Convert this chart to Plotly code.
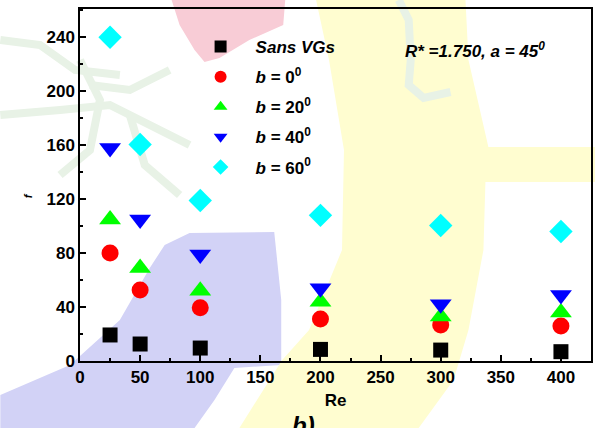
import plotly.graph_objects as go

# ---- data ----
re_vals = [25, 50, 100, 200, 300, 400]
f_sans = [19.3, 12.6, 9.6, 8.6, 8.1, 6.9]
f_b0 = [80, 52.6, 39.5, 31.1, 26.7, 25.9]
f_b20 = [105, 69, 52, 44, 33, 36]
f_b40 = [158, 105, 79, 54, 42, 49]
f_b60 = [240, 160.5, 119, 108, 100.5, 96]
x_ticks = [0, 50, 100, 150, 200, 250, 300, 350, 400]
y_ticks = [0, 40, 80, 120, 160, 200, 240]

FONT = "Arial, Liberation Sans, sans-serif"
W_FIG, H_FIG = 597, 428
L, T, R, B = 80, 9, 4, 67
PW, PH = W_FIG - L - R, H_FIG - T - B


def px(x):
    return (x - L) / PW


def py(y):
    return (T + PH - y) / PH


def poly(pts, close=True):
    s = "M " + " L ".join(f"{px(a):.4f},{py(b):.4f}" for a, b in pts)
    return s + (" Z" if close else "")


fig = go.Figure()

series = [
    ("<b><i>Sans VGs</i></b>", f_sans, "square", "#000000", 15),
    ("<b><i>b</i> = 0<sup>0</sup></b>", f_b0, "circle", "#FF0000", 17),
    ("<b><i>b</i> = 20<sup>0</sup></b>", f_b20, "triangle-up", "#00FF00", 19),
    ("<b><i>b</i> = 40<sup>0</sup></b>", f_b40, "triangle-down", "#0000FF", 19),
    ("<b><i>b</i> = 60<sup>0</sup></b>", f_b60, "diamond", "#00FFFF", 18),
]
for i, (name, ys, sym, col, sz) in enumerate(series):
    fig.add_trace(go.Scatter(
        x=re_vals, y=ys, mode="markers", name=name, legendgroup=f"g{i}",
        marker=dict(symbol=sym, color=col, size=sz, line=dict(width=0)),
    ))

# background watermark shapes
shapes = []
lavender = [(0, 395), (70, 365), (120, 320), (150, 268), (165, 245), (190, 233),
            (275, 232), (282, 300), (282, 365), (235, 368), (215, 400), (195, 428), (0, 428)]
yellow = [(317, 0), (467, 0), (470, 60), (490, 147), (597, 147), (597, 182), (487, 182),
          (485, 250), (470, 330), (455, 380), (420, 428), (240, 428), (283, 360),
          (310, 330), (343, 250), (345, 150), (330, 60)]
pink = [(172, 0), (286, 0), (284, 25), (250, 40), (220, 58), (205, 62), (195, 50), (180, 25)]
for pts, col in [(lavender, "rgb(210,210,246)"), (yellow, "rgb(255,253,208)"),
                 (pink, "rgb(248,204,214)")]:
    shapes.append(dict(type="path", path=poly(pts), xref="paper", yref="paper",
                       fillcolor=col, line=dict(width=0), layer="below"))

# faint green strokes
greens = [
    [(400, 0), (410, 20), (412, 60), (410, 85), (425, 98), (452, 92)],
    [(0, 40), (40, 45), (75, 70), (120, 75)],
    [(0, 115), (60, 110), (110, 105), (150, 125), (190, 145)],
    [(80, 60), (100, 100), (90, 150), (60, 175)],
    [(90, 85), (130, 90), (170, 70)],
    [(130, 115), (145, 165), (180, 195)],
]
for pts in greens:
    shapes.append(dict(type="path", path=poly(pts, close=False), xref="paper", yref="paper",
                       line=dict(color="rgb(232,242,230)", width=8), layer="below"))

fig.update_layout(
    width=W_FIG, height=H_FIG,
    margin=dict(l=L, r=R, t=T, b=B),
    paper_bgcolor="white", plot_bgcolor="rgba(0,0,0,0)",
    font=dict(family=FONT, size=16, color="black"),
    shapes=shapes,
    showlegend=True,
    legend=dict(x=px(186), y=py(29), xanchor="left", yanchor="top",
                bgcolor="rgba(0,0,0,0)", font=dict(size=17, family=FONT),
                itemsizing="constant", tracegroupgap=5, itemwidth=60),
    xaxis=dict(range=[0, 425], tickvals=x_ticks, showgrid=False, zeroline=False,
               showline=True, linecolor="black", linewidth=1.5, mirror=True,
               ticks="inside", ticklen=6, tickwidth=1.5, tickcolor="black",
               minor=dict(ticks="inside", ticklen=3, dtick=25, tickwidth=1.5, tickcolor="black"),
               tickfont=dict(size=17, family=FONT, weight="bold"),
               title=dict(text="<b>Re</b>", font=dict(size=17), standoff=8)),
    yaxis=dict(range=[0, 261], tickvals=y_ticks, showgrid=False, zeroline=False,
               showline=True, linecolor="black", linewidth=1.5, mirror=True,
               ticks="inside", ticklen=6, tickwidth=1.5, tickcolor="black",
               minor=dict(ticks="inside", ticklen=3, dtick=20, tickwidth=1.5, tickcolor="black"),
               tickfont=dict(size=17, family=FONT, weight="bold")),
    annotations=[
        dict(text="<b><i>R* =1.750, a = 45<sup>0</sup></i></b>", x=px(477), y=py(50),
             xref="paper", yref="paper", xanchor="center", yanchor="middle",
             showarrow=False, font=dict(size=17)),
        dict(text="<b><i>f</i></b>", x=px(28), y=py(196), xref="paper", yref="paper",
             xanchor="center", yanchor="middle",
             showarrow=False, textangle=-90, font=dict(size=11)),
        dict(text="<b><i>b)</i></b>", x=px(304), y=py(410), xref="paper", yref="paper",
             xanchor="center", yanchor="top", showarrow=False, font=dict(size=24)),
    ],
)

fig.write_html("out.html")
